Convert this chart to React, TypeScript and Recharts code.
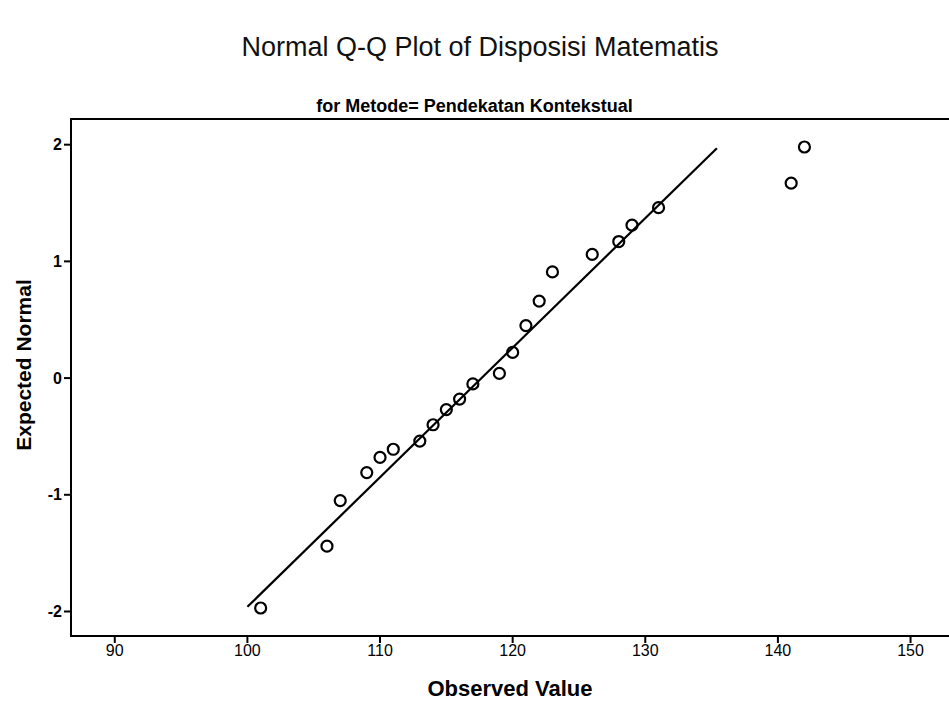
import { ScatterChart, Scatter, XAxis, YAxis, ReferenceLine, ReferenceArea } from 'recharts';

// values
const observedValues = [101, 106, 107, 109, 110, 111, 113, 114, 115, 116, 117, 119, 120, 121, 122, 123, 126, 128, 129, 131, 141, 142];
const expectedNormal = [-1.97, -1.44, -1.05, -0.81, -0.68, -0.61, -0.54, -0.4, -0.27, -0.18, -0.05, 0.04, 0.22, 0.45, 0.66, 0.91, 1.06, 1.17, 1.31, 1.46, 1.67, 1.98];
const fitLineX = [100, 135.4];
const fitLineY = [-1.96, 1.97];
const xTicks = [90, 100, 110, 120, 130, 140, 150];
const yTicks = [-2, -1, 0, 1, 2];

const points = observedValues.map((v, i) => ({ x: v, y: expectedNormal[i] }));
const segment = fitLineX.map((v, i) => ({ x: v, y: fitLineY[i] }));

const font = '"Liberation Sans", Arial, sans-serif';

function Ring(props: any) {
  return <circle cx={props.cx} cy={props.cy} r={5.5} fill="none" stroke="#000" strokeWidth={2.2} />;
}

export default function App() {
  return (
    <div style={{ position: 'absolute', left: 0, top: 0, width: 949, height: 707, overflow: 'hidden', background: '#fff', fontFamily: font }}>
      <div style={{ position: 'absolute', left: 0, width: 960, top: 32, textAlign: 'center', fontSize: 27, color: '#111' }}>
        Normal Q-Q Plot of Disposisi Matematis
      </div>
      <div style={{ position: 'absolute', left: 0, width: 949, top: 96, textAlign: 'center', fontSize: 18, fontWeight: 'bold', color: '#000' }}>
        for Metode= Pendekatan Kontekstual
      </div>
      <div style={{ position: 'absolute', left: 0, width: 1020, top: 676, textAlign: 'center', fontSize: 22, fontWeight: 'bold', color: '#000' }}>
        Observed Value
      </div>
      <div style={{ position: 'absolute', left: 24, top: 365, transform: 'translate(-50%, -50%) rotate(-90deg)', fontSize: 21, fontWeight: 'bold', whiteSpace: 'nowrap', color: '#000' }}>
        Expected Normal
      </div>
      <ScatterChart width={949} height={707} margin={{ top: 119, right: 0, bottom: 0, left: 0 }}>
        <XAxis
          type="number"
          dataKey="x"
          domain={[86.7, 152.9]}
          ticks={xTicks}
          allowDataOverflow
          height={71}
          tickSize={7}
          axisLine={{ stroke: '#000', strokeWidth: 2 }}
          tickLine={{ stroke: '#000', strokeWidth: 2 }}
          tick={{ fill: '#000', fontSize: 16, fontFamily: font }}
        />
        <YAxis
          type="number"
          dataKey="y"
          domain={[-2.21, 2.22]}
          ticks={yTicks}
          allowDataOverflow
          width={71}
          tickSize={7}
          axisLine={{ stroke: '#000', strokeWidth: 2 }}
          tickLine={{ stroke: '#000', strokeWidth: 2 }}
          tick={{ fill: '#000', fontSize: 16, fontWeight: 'bold', fontFamily: font }}
        />
        <ReferenceArea x1={86.7} x2={154} y1={-2.21} y2={2.22} fill="none" stroke="#000" strokeWidth={2} ifOverflow="visible" />
        <ReferenceLine segment={segment} stroke="#000" strokeWidth={2.2} />
        <Scatter data={points} shape={Ring} isAnimationActive={false} />
      </ScatterChart>
    </div>
  );
}
